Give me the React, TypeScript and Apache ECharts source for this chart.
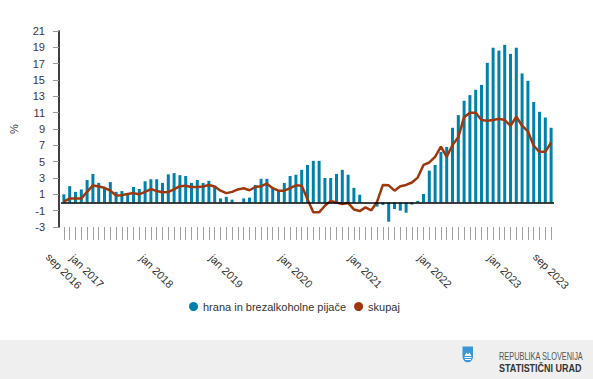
import React, { useEffect, useRef } from "react";
import * as echarts from "echarts";

const monthNames = ["jan", "feb", "mar", "apr", "maj", "jun", "jul", "avg", "sep", "okt", "nov", "dec"];
const categories: string[] = [];
for (let k = 0; k < 85; k++) {
  const m = (8 + k) % 12;
  const y = 2016 + Math.floor((8 + k) / 12);
  categories.push(`${monthNames[m]} ${y}`);
}

const tickLabels = ["sep 2016", "jan 2017", "jan 2018", "jan 2019", "jan 2020", "jan 2021", "jan 2022", "jan 2023", "sep 2023"];

const yTickLabels = ["-3", "-1", "1", "3", "5", "7", "9", "11", "13", "15", "17", "19", "21"];

// hrana in brezalkoholne pijače (bars)
const hrana = [
  1.0, 2.0, 1.3, 1.6, 2.75, 3.5, 2.4, 1.8, 2.5, 1.3,
  1.4, 1.15, 1.9, 1.65, 2.6, 2.85, 2.85, 2.4, 3.45, 3.6,
  3.35, 3.25, 2.4, 2.75, 2.4, 2.65, 1.95, 0.5, 0.7, 0.35,
  0.0, 0.5, 0.6, 2.15, 2.9, 2.9, 1.75, 1.5, 2.4, 3.25,
  3.4, 4.0, 4.6, 5.1, 5.1, 3.0, 3.0, 3.5, 4.0, 3.4,
  1.8, 0.95, 0.0, 0.0, -0.5, -0.3, -2.35, -0.8, -1.0, -1.25,
  -0.25, 0.2, 1.05, 3.9, 4.6, 6.2, 6.8, 9.15, 10.7, 12.45,
  13.15, 13.8, 14.4, 17.1, 18.95, 18.6, 19.3, 18.2, 18.95, 15.8,
  14.9, 12.3, 11.1, 10.4, 9.15,
];

// skupaj (line)
const skupaj = [
  0.1, 0.5, 0.5, 0.5, 1.3, 2.1, 1.95, 1.8, 1.45, 0.85,
  0.9, 1.05, 1.15, 1.0, 1.3, 1.65, 1.4, 1.25, 1.3, 1.6,
  2.0, 2.05, 1.9, 1.9, 1.95, 2.15, 1.95, 1.45, 1.15, 1.3,
  1.6, 1.75, 1.5, 1.9, 2.0, 2.3, 1.75, 1.45, 1.45, 1.75,
  2.1, 2.05, 0.4, -1.2, -1.2, -0.4, 0.2, 0.0, -0.2, -0.05,
  -0.85, -1.05, -0.6, -0.95, 0.1, 2.15, 2.1, 1.45, 2.0, 2.15,
  2.45, 3.05, 4.6, 4.9, 5.6, 6.85, 5.6, 7.05, 8.0, 10.45,
  11.0, 11.0, 10.1, 10.0, 10.1, 10.25, 10.1, 9.4, 10.5, 9.4,
  8.7, 6.95, 6.2, 6.2, 7.35,
];

const FONT = "'Liberation Sans', Arial, sans-serif";
const BAR_COLOR = "#0081ab";
const LINE_COLOR = "#9e380c";

echarts.graphic.registerShape(
  "shieldLogo",
  echarts.graphic.extendPath("M0 0 L10 0 L10 9 C10 13 7.5 15 5 15 C2.5 15 0 13 0 9 Z", {})
);

export default function App() {
  const ref = useRef<HTMLDivElement>(null);

  useEffect(() => {
    if (!ref.current) return;
    const chart = echarts.init(ref.current, undefined, { renderer: "svg" });
    chart.setOption({
      animation: false,
      backgroundColor: "#ffffff",
      textStyle: { fontFamily: FONT },
      grid: { left: 54, right: 39, top: 31, bottom: 152, containLabel: false },
      legend: {
        data: [
          { name: "hrana in brezalkoholne pijače", icon: "circle" },
          { name: "skupaj", icon: "circle" },
        ],
        left: 184,
        top: 296,
        itemWidth: 9,
        itemHeight: 9,
        itemGap: 8,
        textStyle: { fontSize: 11, color: "#333333", fontFamily: FONT },
      },
      xAxis: {
        type: "category",
        data: categories,
        boundaryGap: true,
        position: "bottom",
        axisLine: { show: false, onZero: false },
        axisTick: {
          show: true,
          interval: 0,
          alignWithLabel: true,
          length: 13,
          lineStyle: { color: "#a0a0a0", width: 1 },
        },
        axisLabel: {
          interval: (_i: number, v: string) => tickLabels.includes(v),
          rotate: -45,
          align: "center",
          verticalAlign: "middle",
          margin: 44,
          fontSize: 11,
          color: "#333333",
          fontFamily: FONT,
        },
        splitLine: { show: false },
      },
      yAxis: [
        {
          type: "value",
          min: -3,
          max: 21,
          show: false,
          splitLine: { show: false },
        },
        {
          type: "value",
          min: 0,
          max: 24,
          interval: 2,
          position: "left",
          offset: 2,
          name: "%",
          nameLocation: "middle",
          nameGap: 40,
          nameRotate: 90,
          nameTextStyle: { fontSize: 11, color: "#333333", fontFamily: FONT },
          axisLine: { show: true, onZero: false, lineStyle: { color: "#000000", width: 1.5 } },
          axisTick: { show: true, length: 6, lineStyle: { color: "#999999" } },
          axisLabel: {
            margin: 14,
            fontSize: 11,
            color: "#3a3350",
            fontFamily: FONT,
            formatter: (v: number) => yTickLabels[Math.round(v / 2)] ?? "",
          },
          splitLine: { show: false },
        },
      ],
      series: [
        {
          name: "hrana in brezalkoholne pijače",
          type: "bar",
          yAxisIndex: 0,
          data: hrana,
          barWidth: 3,
          itemStyle: { color: BAR_COLOR },
          markLine: {
            silent: true,
            symbol: "none",
            label: { show: false },
            lineStyle: { color: "#000000", type: "solid", width: 1.5 },
            data: [{ yAxis: 0 }],
          },
        },
        {
          name: "skupaj",
          type: "line",
          yAxisIndex: 0,
          data: skupaj,
          symbol: "none",
          showSymbol: false,
          lineStyle: { color: LINE_COLOR, width: 2.5 },
          itemStyle: { color: LINE_COLOR },
          z: 3,
        },
      ],
      graphic: [
        {
          type: "rect",
          shape: { x: 0, y: 340, width: 593, height: 39 },
          style: { fill: "#efefef" },
          silent: true,
        },
        {
          type: "shieldLogo",
          x: 462.5,
          y: 346.5,
          scaleX: 1.05,
          scaleY: 1.05,
          style: { fill: "#3a97d6" },
          silent: true,
        },
        {
          type: "polygon",
          shape: { points: [[464.5, 356], [466.5, 352.5], [468, 354.5], [469.5, 352.5], [471.5, 356]] },
          style: { fill: "#ffffff" },
          silent: true,
        },
        {
          type: "rect",
          shape: { x: 464.5, y: 357, width: 7, height: 1 },
          style: { fill: "#ffffff" },
          silent: true,
        },
        {
          type: "rect",
          shape: { x: 465, y: 359, width: 6, height: 1 },
          style: { fill: "#ffffff" },
          silent: true,
        },
        {
          type: "text",
          x: 499,
          y: 356.5,
          scaleX: 0.74,
          style: {
            text: "REPUBLIKA SLOVENIJA",
            fill: "#555555",
            font: `10px ${FONT}`,
            verticalAlign: "middle",
            align: "left",
          },
          silent: true,
        },
        {
          type: "text",
          x: 499,
          y: 368,
          scaleX: 0.9,
          style: {
            text: "STATISTIČNI URAD",
            fill: "#333333",
            font: `bold 10px ${FONT}`,
            verticalAlign: "middle",
            align: "left",
          },
          silent: true,
        },
      ],
    });
    return () => chart.dispose();
  }, []);

  return (
    <div
      ref={ref}
      style={{ position: "absolute", left: 0, top: 0, width: 593, height: 379 }}
    />
  );
}
